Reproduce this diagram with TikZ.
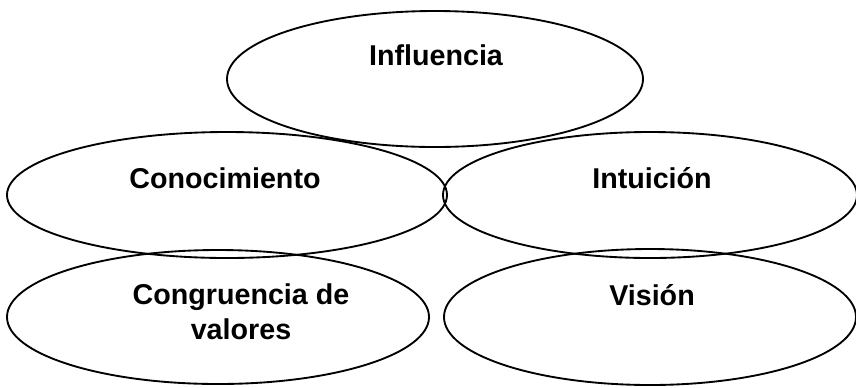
\documentclass[tikz,border=0pt]{standalone}
\usepackage{fontspec}
\setmainfont{Liberation Sans}
\usetikzlibrary{shapes.geometric}

\tikzset{every picture/.style={line width=0.75pt}}
\tikzset{bubble/.style={draw, ellipse, line width=1.4pt, inner sep=0pt},
  lbl/.style={inner sep=0.75pt, anchor=base, align=center, font=\fontsize{21.5}{26}\selectfont\bfseries}}

\begin{document}
\begin{tikzpicture}[x=0.75pt,y=0.75pt,yscale=-1,xscale=1]
\useasboundingbox (0,0) rectangle (856,387);

%Shape: Ellipse [id:infl] 
\node [bubble, minimum width=312pt, minimum height=102pt] (infl) at (435,79) {};
%Shape: Ellipse [id:conoc] 
\node [bubble, minimum width=330pt, minimum height=94.5pt] (conoc) at (227,195) {};
%Shape: Ellipse [id:intu] 
\node [bubble, minimum width=310.5pt, minimum height=94.5pt] (intu) at (650,195) {};
%Shape: Ellipse [id:congr] 
\node [bubble, minimum width=316.5pt, minimum height=100.5pt] (congr) at (218,317) {};
%Shape: Ellipse [id:vision] 
\node [bubble, minimum width=309pt, minimum height=102pt] (vision) at (650,317) {};

% Text Node
\node [lbl] (tinfl) at (436,65) {Influencia};
% Text Node
\node [lbl] (tconoc) at (225,188) {Conocimiento};
% Text Node
\node [lbl] (tintu) at (652,188) {Intuición};
% Text Node
\node [lbl] (tcongr) at (241,339) {Congruencia de\\valores};
% Text Node
\node [lbl] (tvision) at (652,305) {Visión};

\end{tikzpicture}
\end{document}
